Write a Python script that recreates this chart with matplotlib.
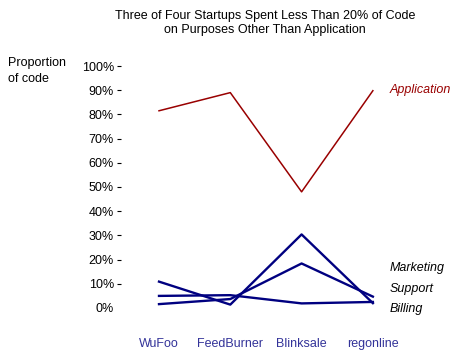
import matplotlib
matplotlib.use("Agg")
import matplotlib.pyplot as plt

plt.rcParams['font.family'] = ['Liberation Sans', 'DejaVu Sans']

categories = ["WuFoo", "FeedBurner", "Blinksale", "regonline"]
application = [0.815, 0.89, 0.48, 0.898]
marketing = [0.016, 0.037, 0.184, 0.047]
support = [0.050, 0.053, 0.019, 0.025]
billing = [0.109, 0.014, 0.304, 0.020]
yticks = [0, 0.1, 0.2, 0.3, 0.4, 0.5, 0.6, 0.7, 0.8, 0.9, 1.0]
ytick_labels = ["0%", "10%", "20%", "30%", "40%", "50%", "60%", "70%", "80%", "90%", "100%"]

W, H = 463, 355
fig = plt.figure(figsize=(W / 100, H / 100), dpi=100)
left_px, right_px, top_px, bottom_px = 121, 463, 60, 320
ax = fig.add_axes([left_px / W, 1 - bottom_px / H, (right_px - left_px) / W, (bottom_px - top_px) / H])

x = list(range(len(categories)))
red = "#990000"
navy = "#000080"
ax.plot(x, application, color=red, lw=1.1)
for s in (marketing, support, billing):
    ax.plot(x, s, color=navy, lw=1.7)

ax.set_xlim(-0.533, 4.264)
ax.set_ylim(-0.0496, 1.0248)

for sp in ax.spines.values():
    sp.set_visible(False)

ax.set_yticks(yticks)
ax.set_yticklabels(ytick_labels, fontsize=9)
ax.tick_params(axis='y', length=3, width=0.8, pad=2, direction='out')
ax.yaxis.get_major_ticks()[0].tick1line.set_visible(False)

ax.set_xticks(x)
ax.set_xticklabels(categories, fontsize=9, color="#333399")
ax.tick_params(axis='x', length=0, pad=13)

lx = 3.24
ax.text(lx, 0.90, "Application", color=red, fontsize=9, style='italic', va='center', ha='left')
ax.text(lx, 0.165, "Marketing", color='black', fontsize=9, style='italic', va='center', ha='left')
ax.text(lx, 0.08, "Support", color='black', fontsize=9, style='italic', va='center', ha='left')
ax.text(lx, -0.005, "Billing", color='black', fontsize=9, style='italic', va='center', ha='left')

fig.text(265 / W, 1 - 23 / H, "Three of Four Startups Spent Less Than 20% of Code\non Purposes Other Than Application",
         ha='center', va='center', fontsize=9, linespacing=1.3)
fig.text(8 / W, 1 - 71 / H, "Proportion\nof code", ha='left', va='center', fontsize=9, linespacing=1.35)

fig.savefig("out.png", dpi=100)
